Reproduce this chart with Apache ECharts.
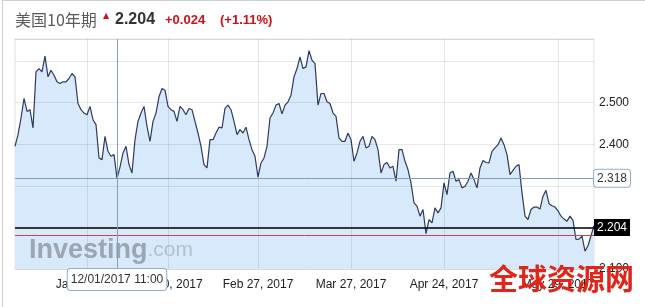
<!DOCTYPE html>
<html><head><meta charset="utf-8">
<script src="https://cdn.jsdelivr.net/npm/echarts@6/dist/echarts.min.js"></script>
<style>
html,body{margin:0;padding:0;background:#fff;}
#c{position:absolute;left:0;top:0;width:645px;height:307px;}
#frame{position:absolute;left:2px;top:0;width:643px;height:307px;border-left:1px solid #cfcfcf;border-top:1px solid #cfcfcf;box-sizing:border-box;pointer-events:none;}
</style></head><body>
<div id="c"></div><div id="frame"></div>
<script>
// ---- data ----
const values = [
2.395,2.423,2.463,2.510,2.479,2.483,2.439,2.574,2.582,2.574,2.612,2.562,2.578,2.566,2.550,2.546,2.550,2.550,2.558,2.570,2.562,2.498,2.483,2.475,2.471,2.491,2.459,2.447,2.367,2.363,2.419,2.383,2.371,
2.375,2.318,2.345,2.379,2.395,2.351,2.331,2.411,2.455,2.475,2.491,2.443,2.407,2.455,2.475,2.514,2.534,2.530,2.491,2.483,2.479,2.455,2.491,2.483,2.471,2.486,2.483,2.455,2.427,2.395,2.351,2.343,
2.411,2.411,2.427,2.441,2.439,2.486,2.494,2.483,2.455,2.423,2.435,2.427,2.441,2.411,2.387,2.371,2.321,2.355,2.367,2.395,2.463,2.475,2.494,2.498,2.473,2.494,2.502,2.518,2.562,2.582,2.610,2.582,2.586,
2.625,2.602,2.594,2.494,2.522,2.522,2.502,2.498,2.475,2.467,2.415,2.407,2.407,2.427,2.411,2.359,2.379,2.407,2.419,2.391,2.395,2.419,2.411,2.387,2.331,2.351,2.356,2.343,2.347,2.311,2.387,2.387,2.359,
2.339,2.307,2.259,2.251,2.227,2.243,2.185,2.219,2.211,2.247,2.235,2.247,2.307,2.279,2.331,2.335,2.311,2.315,2.295,2.299,2.311,2.331,2.315,2.295,2.343,2.361,2.356,2.355,2.383,2.391,2.399,2.415,2.399,
2.375,2.327,2.337,2.347,2.351,2.283,2.227,2.219,2.243,2.249,2.249,2.244,2.275,2.289,2.257,2.252,2.249,2.240,2.227,2.220,2.215,2.227,2.217,2.171,2.172,2.179,2.143,2.156,2.180,2.204
];
const categories = values.map((v, i) => String(i));
const xTickIndex = [24, 51, 81, 112, 143, 181];
const xTickLabels = ['Jan 2, 2017', 'Jan 30, 2017', 'Feb 27, 2017', 'Mar 27, 2017', 'Apr 24, 2017', 'May 29, 2017'];
const yTickLabels = ['2.100', '2.400', '2.500'];
const lastValue = 2.204;
const prevClose = 2.180;
const crossIndex = 34;
const crossValue = 2.318;
const crossLabel = '12/01/2017 11:00';
const titleName = '美国10年期';
const titlePrice = '2.204';
const titleChange = '+0.024';
const titlePct = '(+1.11%)';

const chart = echarts.init(document.getElementById('c'), null, {renderer: 'canvas'});
const gridLine = 'rgba(0,0,0,0.09)';
chart.setOption({
  animation: false,
  backgroundColor: '#fff',
  title: {
    left: 15, top: 12, padding: 0,
    text: '{a|' + titleName + '}{u|▲}{b|' + titlePrice + '}{c|' + titleChange + '}{d|' + titlePct + '}',
    textStyle: {
      fontWeight: 'normal',
      rich: {
        a: {fontFamily: 'Noto Sans CJK SC', fontSize: 16, fontWeight: 'normal', color: '#5a5a5a', width: 88},
        u: {fontFamily: 'DejaVu Sans', fontSize: 8, color: '#d0101b', width: 12, verticalAlign: 'top'},
        b: {fontFamily: 'Liberation Sans', fontSize: 16, fontWeight: 'bold', color: '#333', width: 50},
        c: {fontFamily: 'Liberation Sans', fontSize: 13, fontWeight: 'bold', color: '#cc1018', width: 55},
        d: {fontFamily: 'Liberation Sans', fontSize: 13, fontWeight: 'bold', color: '#cc1018'}
      }
    }
  },
  grid: {left: 15, right: 51, top: 39, bottom: 38, show: true, borderColor: '#e0e0e0', borderWidth: 1, backgroundColor: 'transparent'},
  xAxis: {
    type: 'category', data: categories, boundaryGap: false, z: 3,
    axisLine: {show: false}, axisTick: {show: false},
    splitLine: {show: true, interval: (i) => xTickIndex.includes(i), lineStyle: {color: gridLine, width: 1}},
    axisLabel: {
      interval: (i) => xTickIndex.includes(i),
      formatter: (v, i) => { const k = xTickIndex.indexOf(Number(v)); return k >= 0 ? xTickLabels[k] : ''; },
      fontFamily: 'Liberation Sans', fontSize: 12, color: '#222', margin: 10
    },
    axisPointer: {
      show: true, type: 'line', value: crossIndex, status: 'show', snap: false, triggerTooltip: false,
      lineStyle: {color: '#7f9fbd', width: 1, type: 'solid'},
      label: {show: true, formatter: () => crossLabel, backgroundColor: '#fff', borderColor: '#8fb0cc', borderWidth: 1,
        color: '#333', fontFamily: 'Liberation Sans', fontSize: 12, padding: [5, 3, 4, 3], margin: 0, shadowBlur: 0}
    }
  },
  yAxis: {
    type: 'value', position: 'right', min: 2.1, max: 2.653, interval: 0.1, z: 3,
    axisLine: {show: false}, axisTick: {show: false},
    splitLine: {show: true, lineStyle: {color: gridLine, width: 1}},
    axisLabel: {
      formatter: (v) => { const s = v.toFixed(3); return yTickLabels.includes(s) ? s : ''; },
      fontFamily: 'Liberation Sans', fontSize: 12, color: '#222', margin: 5
    },
    axisPointer: {
      show: true, type: 'line', value: crossValue, status: 'show', snap: false, triggerTooltip: false,
      lineStyle: {color: '#7f9fbd', width: 1, type: 'solid'},
      label: {show: true, formatter: () => crossValue.toFixed(3), backgroundColor: '#fff', borderColor: '#8fb0cc', borderWidth: 1,
        color: '#333', fontFamily: 'Liberation Sans', fontSize: 12, padding: [3, 3, 2, 3], margin: 0, shadowBlur: 0}
    }
  },
  graphic: [
    {type: 'text', left: 29, top: 237, z: 20, silent: true,
      style: {text: '{i|Investing}{c|.com}', rich: {
        i: {fontFamily: 'Liberation Sans', fontSize: 27, fontWeight: 'bold', fill: '#9ca6b0'},
        c: {fontFamily: 'Liberation Sans', fontSize: 21, fill: '#b6c0ca'}
      }}},
    {type: 'text', left: 489, top: 264, z: 100, silent: true,
      style: {text: '全球资源网', fontFamily: 'Noto Sans CJK SC', fontSize: 29, fontWeight: 'bold', fill: '#e2251b'}}
  ],
  series: [{
    type: 'line', data: values, symbol: 'none', z: 1,
    lineStyle: {color: '#2e3a62', width: 1.2},
    areaStyle: {color: '#d7e9fb', opacity: 1, origin: 'start'},
    markLine: {
      silent: true, symbol: 'none', animation: false,
      data: [
        {yAxis: lastValue, lineStyle: {color: '#000', width: 1.5, type: 'solid'},
          label: {show: true, position: 'end', distance: 0, formatter: () => lastValue.toFixed(3), backgroundColor: '#000', color: '#fff',
            fontFamily: 'Liberation Sans', fontSize: 12, padding: [3, 3, 2, 3]}},
        {yAxis: prevClose, lineStyle: {color: '#c8454a', width: 1, type: 'solid'}, label: {show: false}}
      ]
    }
  }]
});
</script>
</body></html>
